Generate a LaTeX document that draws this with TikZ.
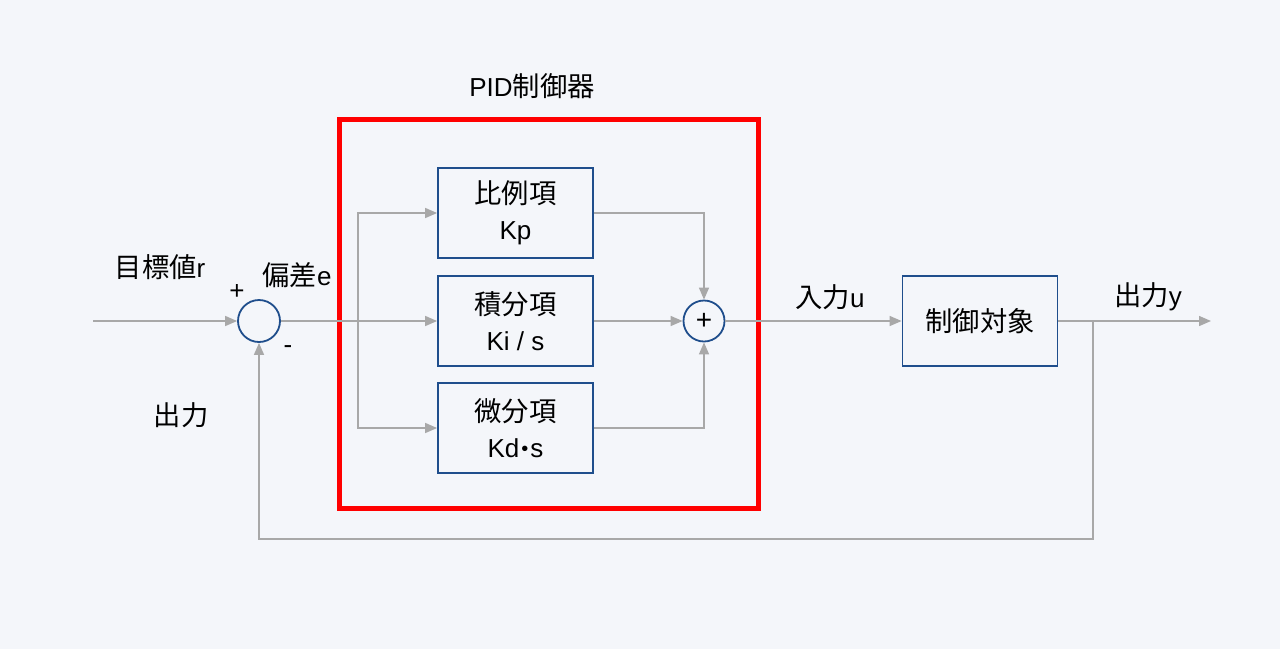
\documentclass[tikz,border=0pt]{standalone}
\usepackage{fontspec}
\setmainfont{Liberation Sans}
\newfontfamily\cjk{Noto Sans CJK JP}[Scale=1.05]
\usetikzlibrary{arrows.meta}
\definecolor{bg}{HTML}{F4F6FA}
\definecolor{ln}{HTML}{A8A8A8}
\definecolor{bx}{HTML}{1F4E8C}
\newcommand{\mydot}{\hspace{2pt}\raisebox{2pt}{\fontsize{20}{20}\selectfont •}\hspace{2pt}}
\begin{document}
\begin{tikzpicture}[x=1pt,y=-1pt,
  wire/.style={draw=ln,line width=1.4pt},
  arr/.style={wire,-{Triangle[length=12pt,width=10pt]}},
  blk/.style={draw=bx,line width=1.8pt,minimum width=155pt,minimum height=90pt,align=center,inner sep=0pt,font=\fontsize{26}{36}\selectfont},
  sumc/.style={draw=bx,line width=1.8pt,circle,minimum size=42pt,inner sep=0pt,font=\fontsize{28}{28}\selectfont},
  lbl/.style={font=\fontsize{26}{28}\selectfont,inner sep=0pt}]
\fill[bg] (0,0) rectangle (1280,649);
\useasboundingbox (0,0) rectangle (1280,649);
\draw[red,line width=5pt] (339,119) rectangle (758,508);
\node[lbl] (title) at (532,86) {PID{\cjk 制御器}};
\node[blk] (p) at (515.5,213) {{\cjk 比例項}\\Kp};
\node[blk] (i) at (515.5,321) {{\cjk 積分項}\\Ki / s};
\node[blk] (d) at (515.5,428) {{\cjk 微分項}\\Kd\mydot s};
\node[sumc] (s1) at (259,321) {};
\node[sumc,minimum size=41pt] (s2) at (704,321) {+};
\node[blk] (g) at (980,321) {{\cjk 制御対象}};
\coordinate (in) at (93,321);
\coordinate (out) at (1211,321);
\coordinate (br) at (358,321);
\coordinate (fb) at (1093,321);
\draw[arr] (in) -- (s1.west);
\draw[arr] (s1.east) -- (i.west);
\draw[arr] (br) |- (p.west);
\draw[arr] (br) |- (d.west);
\draw[arr] (p.east) -| (s2.north);
\draw[arr] (i.east) -- (s2.west);
\draw[arr] (d.east) -| (s2.south);
\draw[arr] (s2.east) -- (g.west);
\draw[arr] (g.east) -- (out);
\draw[arr] (fb) -- (1093,539) -| (s1.south);
\node[lbl] (lr) at (160,267) {{\cjk 目標値}r};
\node[lbl] (lp) at (237,292) {+};
\node[lbl] (le) at (297,275) {{\cjk 偏差}e};
\node[lbl] (lm) at (288,350) {-};
\node[lbl] (ly1) at (181,415) {{\cjk 出力}};
\node[lbl] (lu) at (830,297) {{\cjk 入力}u};
\node[lbl] (ly) at (1148,297) {{\cjk 出力}y};
\end{tikzpicture}
\end{document}
